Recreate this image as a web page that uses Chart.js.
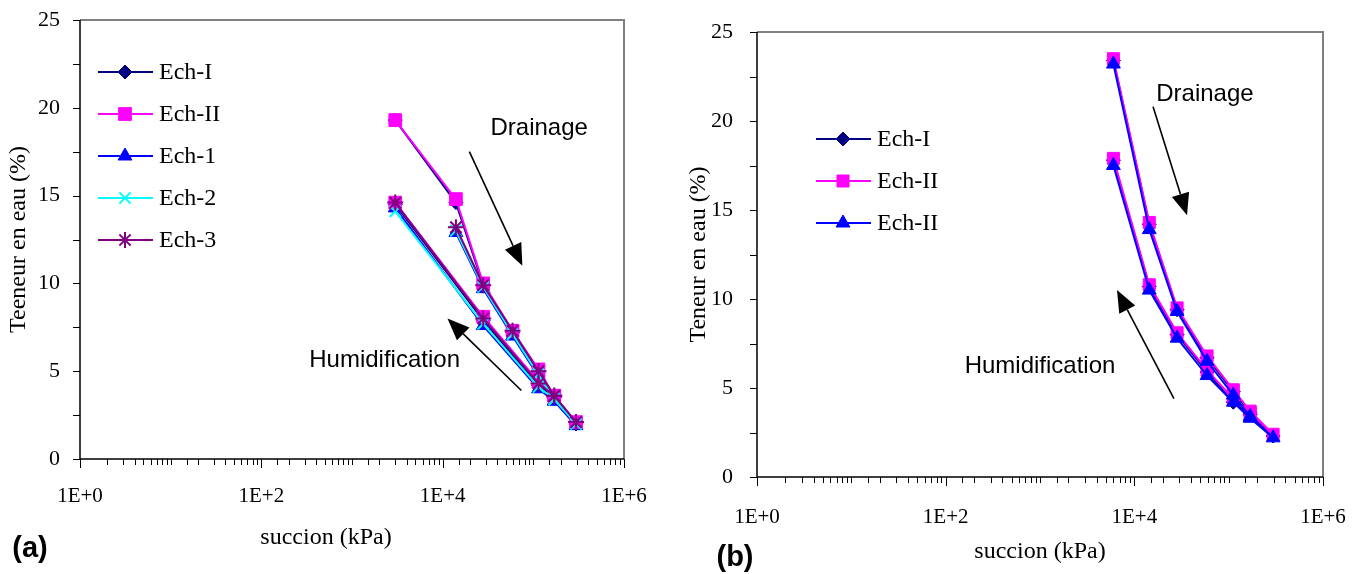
<!DOCTYPE html>
<html>
<head>
<meta charset="utf-8">
<script src="https://cdn.jsdelivr.net/npm/chart.js@4.4.1/dist/chart.umd.min.js"></script>
<style>
  html, body { margin: 0; padding: 0; background: #fff; }
  #wrap { position: relative; width: 1368px; height: 574px; }
  .box { position: absolute; top: 0; width: 684px; height: 574px; }
</style>
</head>
<body>
<div id="wrap">
  <div class="box" style="left:0"><canvas id="chartA" width="684" height="574"></canvas></div>
  <div class="box" style="left:684px"><canvas id="chartB" width="684" height="574"></canvas></div>
</div>
<script>
// ---- data (a) : succion (kPa) / teneur en eau (%)
const drainSuctionA = [3000, 14000, 28000, 59000, 114000, 170000, 296000];
const humidSuctionA = [170000, 114000, 28000, 3000];

const echI_drainA = [19.3, 14.6, 9.9, 7.2, 5.0, 3.5, 2.0];
const echI_humidA = [3.5, 4.2, 7.9, 14.5];
const echII_drainA = [19.3, 14.8, 10.0, 7.3, 5.1, 3.6, 2.1];
const echII_humidA = [3.6, 4.4, 8.1, 14.6];
const ech1_drainA = [null, 12.9, 9.7, 7.0, 4.7, 3.3, 1.9];
const ech1_humidA = [3.3, 4.0, 7.6, 14.3];
const ech2_drainA = [null, 13.0, 9.8, 7.1, 4.8, 3.4, 2.0];
const ech2_humidA = [3.4, 4.1, 7.7, 14.1];
const ech3_drainA = [null, 13.2, 9.9, 7.3, 5.0, 3.6, 2.1];
const ech3_humidA = [3.6, 4.3, 8.0, 14.6];

// ---- data (b)
const drainSuctionB = [6000, 14400, 28400, 59000, 112000, 169000, 296000];
const humidSuctionB = [169000, 112000, 59000, 28400, 14400, 6000];

const echI_drainB = [23.4, 14.2, 9.4, 6.7, 4.8, 3.6, 2.3];
const echI_humidB = [3.5, 4.2, 5.9, 8.0, 10.7, 17.8];
const echII_drainB = [23.5, 14.3, 9.5, 6.8, 4.9, 3.7, 2.4];
const echII_humidB = [3.6, 4.4, 6.0, 8.1, 10.8, 17.9];
const echIIb_drainB = [23.2, 13.9, 9.3, 6.5, 4.6, 3.4, 2.2];
const echIIb_humidB = [3.3, 4.2, 5.7, 7.8, 10.5, 17.5];

const serifFont = "'Liberation Serif', 'Times New Roman', serif";
const sansFont = "'Liberation Sans', Arial, sans-serif";

function toPoints(drainX, drainY, humidX, humidY) {
  let pts = [];
  drainX.forEach((x, i) => { if (drainY[i] !== null) pts.push({ x: x, y: drainY[i] }); });
  humidX.forEach((x, i) => { if (humidY[i] !== null) pts.push({ x: x, y: humidY[i] }); });
  return pts;
}

function makeSet(label, color, style, radius, pts, order, bw) {
  return {
    label: label,
    data: pts,
    showLine: true,
    borderColor: color,
    backgroundColor: color,
    borderWidth: 2,
    pointStyle: style,
    pointRadius: radius,
    pointBackgroundColor: color,
    pointBorderColor: color,
    pointBorderWidth: bw || 1,
    order: order,
  };
}

// frame, ticks, legend and notes drawn from the scales
const decor = {
  id: "decor",
  beforeDatasetsDraw(chart) {
    const ctx = chart.ctx;
    const a = chart.chartArea;
    const xs = chart.scales.x;
    const ys = chart.scales.y;
    ctx.save();
    ctx.strokeStyle = "#808080";
    ctx.lineWidth = 2;
    ctx.beginPath();
    ctx.moveTo(a.left, a.top);
    ctx.lineTo(a.right, a.top);
    ctx.lineTo(a.right, a.bottom);
    ctx.stroke();

    ctx.strokeStyle = "#000";
    ctx.lineWidth = 1.5;
    ctx.beginPath();
    ctx.moveTo(a.left, a.top);
    ctx.lineTo(a.left, a.bottom);
    ctx.lineTo(a.right, a.bottom);
    ctx.stroke();

    ctx.lineWidth = 1;
    ctx.beginPath();
    ys.ticks.forEach((t) => {
      const py = Math.round(ys.getPixelForValue(t.value)) + 0.5;
      ctx.moveTo(a.left - 7, py);
      ctx.lineTo(a.left, py);
    });
    xs.ticks.forEach((t) => {
      const px = Math.round(xs.getPixelForValue(t.value)) + 0.5;
      const e = Math.log10(t.value);
      const major = Math.abs(e - Math.round(e)) < 1e-6 && Math.round(e) % 2 === 0;
      ctx.moveTo(px, a.bottom);
      ctx.lineTo(px, a.bottom + (major ? 9 : 6));
    });
    ctx.stroke();
    ctx.restore();
  },
  afterDatasetsDraw(chart, args, opts) {
    const ctx = chart.ctx;
    const a = chart.chartArea;
    const xs = chart.scales.x;
    const ys = chart.scales.y;
    ctx.save();

    // legend
    const lg = opts.legend;
    chart.data.datasets.forEach((ds, i) => {
      const y = a.top + lg.top + i * lg.gap;
      const x0 = a.left + lg.left;
      ctx.strokeStyle = ds.borderColor;
      ctx.fillStyle = ds.borderColor;
      ctx.lineWidth = 2;
      ctx.beginPath();
      ctx.moveTo(x0, y);
      ctx.lineTo(x0 + 55, y);
      ctx.stroke();
      ctx.lineWidth = ds.pointBorderWidth;
      Chart.helpers.drawPoint(ctx, {
        pointStyle: ds.pointStyle,
        radius: ds.pointRadius,
        rotation: 0,
        borderWidth: ds.pointBorderWidth,
      }, x0 + 27, y);
      ctx.fillStyle = "#000";
      ctx.font = "24px " + serifFont;
      ctx.textAlign = "left";
      ctx.textBaseline = "middle";
      ctx.fillText(ds.label, x0 + 61, y + 1);
    });

    // arrows
    ctx.strokeStyle = "#000";
    ctx.fillStyle = "#000";
    opts.arrows.forEach((ar) => {
      const x1 = xs.getPixelForValue(ar.from[0]);
      const y1 = ys.getPixelForValue(ar.from[1]);
      const x2 = xs.getPixelForValue(ar.to[0]);
      const y2 = ys.getPixelForValue(ar.to[1]);
      const ang = Math.atan2(y2 - y1, x2 - x1);
      const len = 22, half = 9;
      const bx = x2 - Math.cos(ang) * len;
      const by = y2 - Math.sin(ang) * len;
      ctx.lineWidth = 1.6;
      ctx.beginPath();
      ctx.moveTo(x1, y1);
      ctx.lineTo(bx, by);
      ctx.stroke();
      ctx.beginPath();
      ctx.moveTo(x2, y2);
      ctx.lineTo(bx + Math.sin(ang) * half, by - Math.cos(ang) * half);
      ctx.lineTo(bx - Math.sin(ang) * half, by + Math.cos(ang) * half);
      ctx.closePath();
      ctx.fill();
    });

    // notes in data coords
    ctx.textAlign = "center";
    ctx.textBaseline = "middle";
    opts.notes.forEach((n) => {
      ctx.font = "24px " + sansFont;
      ctx.fillText(n.text, xs.getPixelForValue(n.x), ys.getPixelForValue(n.y));
    });
    // labels in canvas pixels
    opts.labels.forEach((n) => {
      ctx.font = n.font;
      ctx.fillText(n.text, n.px, n.py);
    });
    ctx.restore();
  },
};

function makeOptions(cfg) {
  return {
    responsive: false,
    animation: false,
    devicePixelRatio: 1,
    layout: { padding: cfg.padding },
    plugins: {
      legend: { display: false },
      tooltip: { enabled: false },
      decor: cfg.decor,
    },
    scales: {
      x: {
        type: "logarithmic",
        position: "bottom",
        min: 1,
        max: 1000000,
        // tick marks are drawn by the decor plugin; tickLength only spaces the labels
        grid: { display: false, drawTicks: true, tickLength: cfg.xPad - 2 },
        border: { display: false },
        afterFit: (scale) => { scale.height = cfg.xHeight; },
        ticks: {
          autoSkip: false,
          maxRotation: 0,
          padding: 2,
          color: "#000",
          font: { family: serifFont, size: 21 },
          callback: (v) => {
            const e = Math.log10(v);
            if (Math.abs(e - Math.round(e)) < 1e-6 && Math.round(e) % 2 === 0) {
              return "1E+" + Math.round(e);
            }
            return "";
          },
        },
        title: {
          display: cfg.xTitle !== null,
          text: cfg.xTitle || "",
          color: "#000",
          font: { family: serifFont, size: 24 },
          padding: { top: 0, bottom: 8 },
        },
      },
      y: {
        min: 0,
        max: 25,
        grid: { display: false, drawTicks: true, tickLength: cfg.yPad - 2 },
        border: { display: false },
        afterFit: (scale) => { scale.width = cfg.yWidth; },
        ticks: {
          stepSize: 2.5,
          padding: 2,
          color: "#000",
          font: { family: serifFont, size: 22 },
          callback: (v) => (v % 5 === 0 ? v : ""),
        },
        title: {
          display: true,
          text: cfg.yTitle,
          color: "#000",
          font: { family: serifFont, size: 24 },
          padding: { top: cfg.yTitlePad, bottom: 0 },
        },
      },
    },
  };
}

// chart (a)
new Chart(document.getElementById("chartA"), {
  type: "scatter",
  data: {
    datasets: [
      makeSet("Ech-I", "#000080", "rectRot", 7, toPoints(drainSuctionA, echI_drainA, humidSuctionA, echI_humidA), 4),
      makeSet("Ech-II", "#FF00FF", "rect", 9, toPoints(drainSuctionA, echII_drainA, humidSuctionA, echII_humidA), 2),
      makeSet("Ech-1", "#0000FF", "triangle", 8, toPoints(drainSuctionA, ech1_drainA, humidSuctionA, ech1_humidA), 3),
      makeSet("Ech-2", "#00FFFF", "crossRot", 8, toPoints(drainSuctionA, ech2_drainA, humidSuctionA, ech2_humidA), 1, 2),
      makeSet("Ech-3", "#800080", "star", 8, toPoints(drainSuctionA, ech3_drainA, humidSuctionA, ech3_humidA), 0, 2),
    ],
  },
  options: makeOptions({
    padding: { left: 0, top: 20, right: 60, bottom: 0 },
    xHeight: 115,
    yWidth: 80,
    xPad: 25,
    yPad: 20,
    xTitle: null,
    yTitle: "Teeneur en eau (%)",
    yTitlePad: 4,
    decor: {
      legend: { left: 18, top: 52, gap: 42 },
      arrows: [
        { from: [19700, 17.5], to: [75700, 11.0] },
        { from: [73800, 3.9], to: [11300, 8.0] },
      ],
      notes: [
        { text: "Drainage", x: 116000, y: 18.8 },
        { text: "Humidification", x: 2290, y: 5.6 },
      ],
      labels: [
        { text: "succion (kPa)", px: 326, py: 538, font: "24px " + serifFont },
        { text: "(a)", px: 30, py: 549, font: "bold 29px " + sansFont },
      ],
    },
  }),
  plugins: [decor],
});

// chart (b)
new Chart(document.getElementById("chartB"), {
  type: "scatter",
  data: {
    datasets: [
      makeSet("Ech-I", "#000080", "rectRot", 7, toPoints(drainSuctionB, echI_drainB, humidSuctionB, echI_humidB), 2),
      makeSet("Ech-II", "#FF00FF", "rect", 8.5, toPoints(drainSuctionB, echII_drainB, humidSuctionB, echII_humidB), 1),
      makeSet("Ech-II", "#0000FF", "triangle", 8, toPoints(drainSuctionB, echIIb_drainB, humidSuctionB, echIIb_humidB), 0),
    ],
  },
  options: makeOptions({
    padding: { left: 0, top: 32, right: 45, bottom: 0 },
    xHeight: 97,
    yWidth: 73,
    xPad: 28,
    yPad: 24,
    xTitle: "succion (kPa)",
    yTitle: "Teneur en eau (%)",
    yTitlePad: 0,
    decor: {
      legend: { left: 59, top: 107, gap: 42 },
      arrows: [
        { from: [15800, 20.8], to: [36200, 14.7] },
        { from: [26300, 4.4], to: [6550, 10.5] },
      ],
      notes: [
        { text: "Drainage", x: 56000, y: 21.5 },
        { text: "Humidification", x: 1000, y: 6.2 },
      ],
      labels: [
        { text: "(b)", px: 51, py: 558, font: "bold 29px " + sansFont },
      ],
    },
  }),
  plugins: [decor],
});
</script>
</body>
</html>
